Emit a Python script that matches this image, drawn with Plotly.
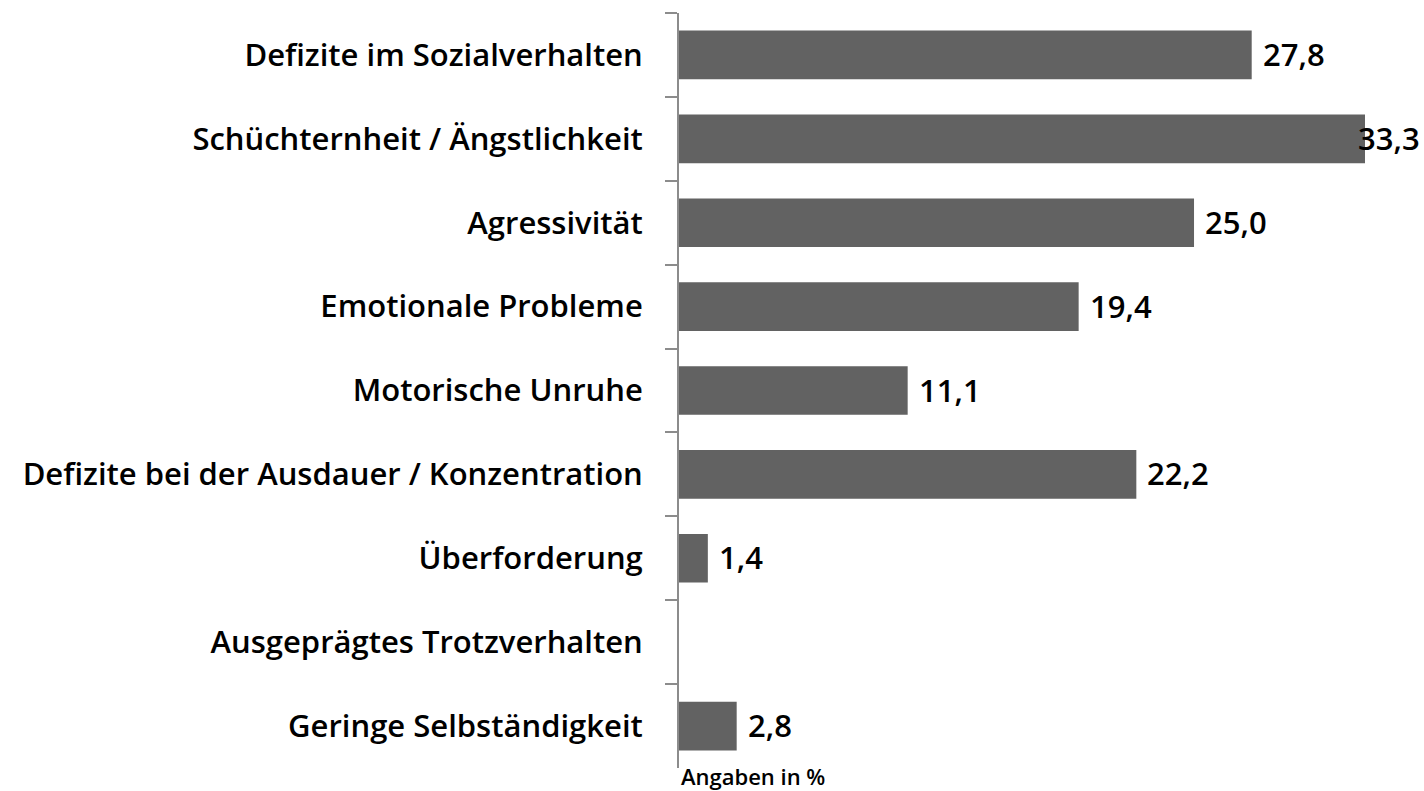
import plotly.graph_objects as go

categories = [
    "Defizite im Sozialverhalten",
    "Schüchternheit / Ängstlichkeit",
    "Agressivität",
    "Emotionale Probleme",
    "Motorische Unruhe",
    "Defizite bei der Ausdauer / Konzentration",
    "Überforderung",
    "Ausgeprägtes Trotzverhalten",
    "Geringe Selbständigkeit",
]
values = [27.8, 33.3, 25.0, 19.4, 11.1, 22.2, 1.4, None, 2.8]
axis_note = "Angaben in %"

FONT = "Open Sans"
W, H = 1424, 791
ML, MR, MT, MB = 679, 59, 13, 23

fig = go.Figure()
fig.add_trace(go.Bar(
    y=categories, x=values, orientation="h",
    marker=dict(color="#626262", line=dict(width=0)),
    hoverinfo="skip",
))

xmax = max(v for v in values if v is not None)
for c, v in zip(categories, values):
    if v is None:
        continue
    shift = -9 if v == xmax else 9
    fig.add_annotation(
        x=v, y=c, xref="x", yref="y", text=f"{v:.1f}".replace(".", ","),
        showarrow=False, xanchor="left", yanchor="middle", xshift=shift, yshift=1,
        font=dict(family=FONT, size=31, color="#000000", weight=600),
    )

fig.add_annotation(
    x=0, y=0, xref="paper", yref="paper", text=axis_note, showarrow=False,
    xanchor="left", yanchor="top", xshift=0, yshift=9,
    font=dict(family=FONT, size=22, color="#000000", weight=600),
)

fig.update_layout(
    width=W, height=H,
    margin=dict(l=ML, r=MR, t=MT, b=MB, pad=0),
    paper_bgcolor="white", plot_bgcolor="white",
    bargap=0.42, showlegend=False,
    xaxis=dict(range=[0, xmax], visible=False, fixedrange=True),
    yaxis=dict(
        autorange="reversed", type="category", fixedrange=True,
        showline=True, linecolor="#8c8c8c", linewidth=2,
        ticks="outside", tickson="boundaries", ticklen=12, tickcolor="#8c8c8c", tickwidth=2,
        ticklabelstandoff=28, showgrid=False,
        tickfont=dict(family=FONT, size=31, color="#000000", weight=600),
    ),
)

fig.write_html("out.html", config={"displayModeBar": False},
               post_script="document.body.style.margin='0';")
